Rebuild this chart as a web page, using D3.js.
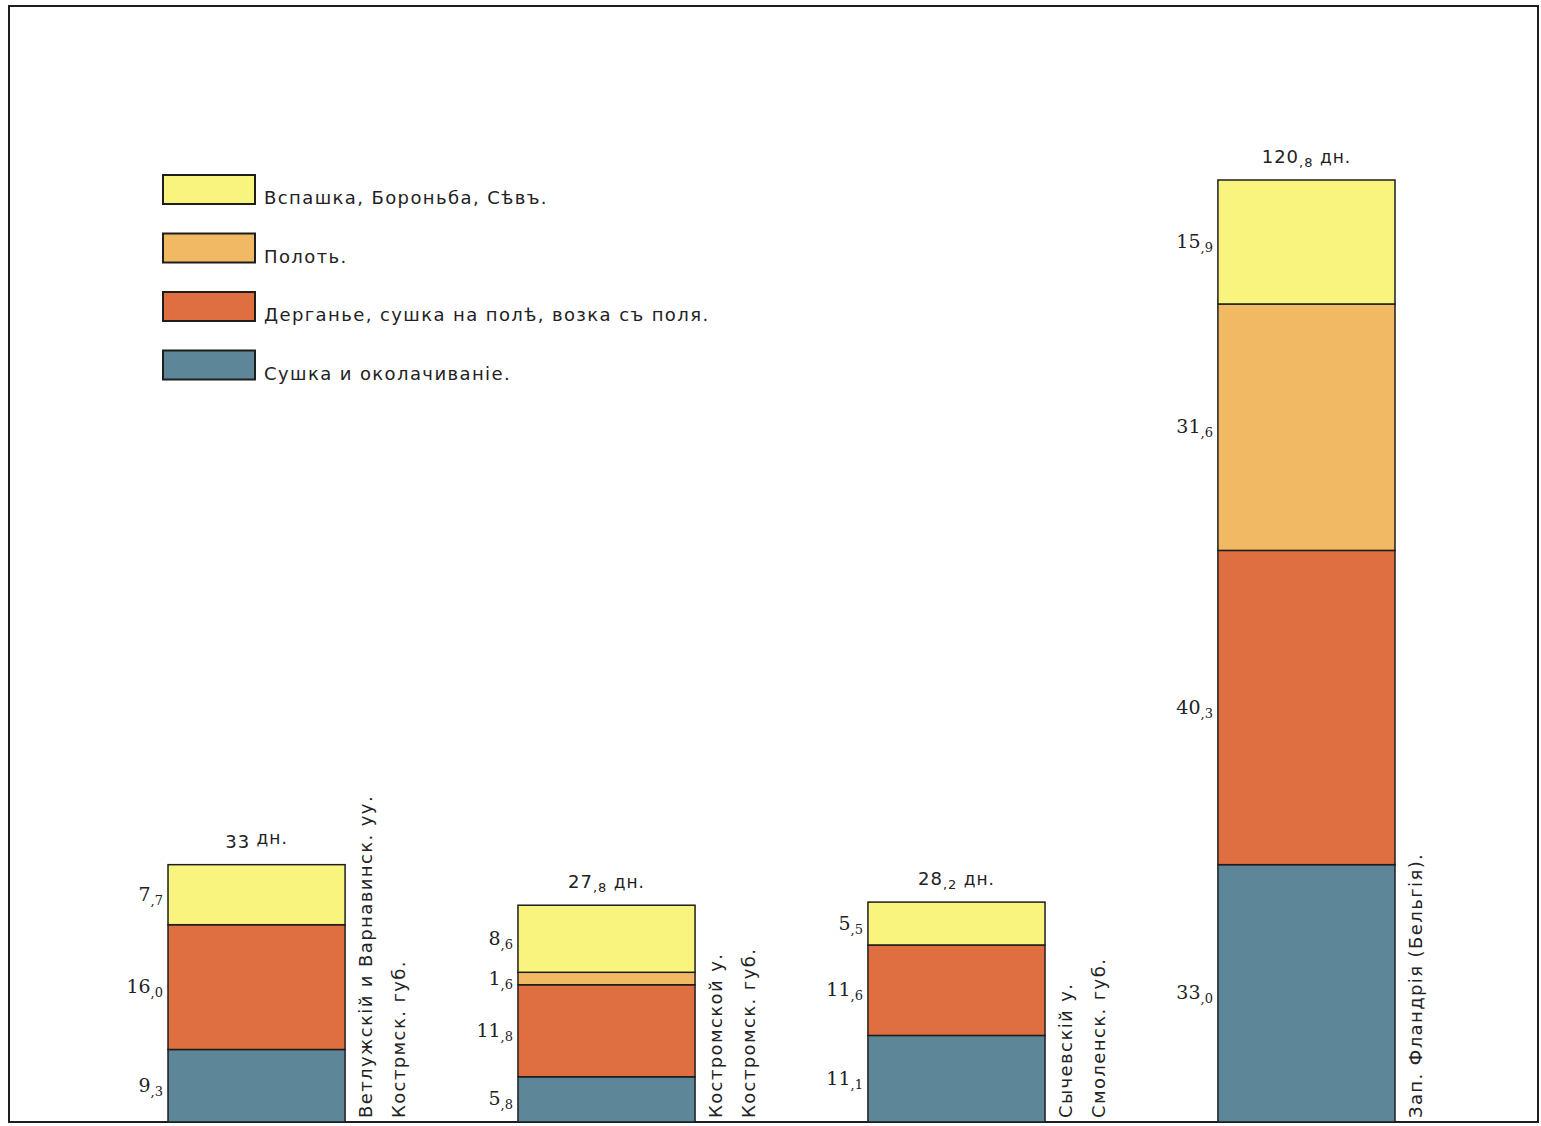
<!DOCTYPE html>
<html>
<head>
<meta charset="utf-8">
<script src="https://cdn.jsdelivr.net/npm/d3@7"></script>
<style>
  body { margin: 0; background: #fff; }
  svg { display: block; }
</style>
</head>
<body>
<svg id="canvas" width="1541" height="1126"></svg>
<script>
// regions (bars), two-line rotated captions
let regions = ['Ветлужскій', 'Костромской', 'Сычевскій', 'Фландрія']
let captions = [
  ['Ветлужскій и Варнавинск. уу.', 'Кострмск. губ.'],
  ['Костромской у.', 'Костромск. губ.'],
  ['Сычевскій у.', 'Смоленск. губ.'],
  ['Зап. Фландрія (Бельгія).']
]

// stack order bottom -> top
let categories = ['drying', 'pulling', 'weeding', 'ploughing']
let categoryNames = {
  ploughing: 'Вспашка, Бороньба, Сѣвъ.',
  weeding: 'Полоть.',
  pulling: 'Дерганье, сушка на полѣ, возка съ поля.',
  drying: 'Сушка и околачиваніе.'
}
let legendOrder = ['ploughing', 'weeding', 'pulling', 'drying']

// days of work
let drying = [9.3, 5.8, 11.1, 33.0]
let pulling = [16.0, 11.8, 11.6, 40.3]
let weeding = [0, 1.6, 0, 31.6]
let ploughing = [7.7, 8.6, 5.5, 15.9]
let totals = [33, 27.8, 28.2, 120.8]

let colors = {
  ploughing: '#f9f47e',
  weeding: '#f1b963',
  pulling: '#df6f40',
  drying: '#5e8699'
}

let canvas = d3.select('#canvas')

let rows = regions.map((r, i) => {
  return { region: r, drying: drying[i], pulling: pulling[i], weeding: weeding[i], ploughing: ploughing[i] }
})

let xScale = d3.scaleBand()
  .domain(regions)
  .range([168, 1395])
  .paddingInner(0.494)
  .paddingOuter(0)

let yScale = d3.scaleLinear()
  .domain([0, 120.8])
  .range([1122, 180])

let series = d3.stack().keys(categories)(rows)

let numText = (sel, value, bigSize, smallSize) => {
  let s = value.toFixed(1).split('.')
  sel.append('tspan').text(s[0]).attr('font-size', bigSize)
  sel.append('tspan').text(',' + s[1]).attr('font-size', smallSize).attr('dy', 4)
}

// frame
canvas.append('path')
  .attr('d', 'M9,1122 L9,6 L1538,6 L1538,1122 Z')
  .attr('fill', 'none')
  .attr('stroke', '#1e1e1e')
  .attr('stroke-width', 2)

// bars
let layers = canvas.selectAll('g.layer')
  .data(series)
  .enter()
  .append('g')
  .attr('class', 'layer')
  .attr('fill', (d) => colors[d.key])

layers.selectAll('rect')
  .data((d) => d.filter((p) => p[1] - p[0] > 0))
  .enter()
  .append('rect')
  .attr('x', (p) => xScale(p.data.region))
  .attr('y', (p) => yScale(p[1]))
  .attr('width', xScale.bandwidth())
  .attr('height', (p) => yScale(p[0]) - yScale(p[1]))
  .attr('stroke', '#1e1e1e')
  .attr('stroke-width', 1.5)

// segment values
series.forEach((layer) => {
  layer.forEach((p) => {
    let v = p[1] - p[0]
    if (v <= 0) return
    let t = canvas.append('text')
      .attr('x', xScale(p.data.region) - 5)
      .attr('y', (yScale(p[0]) + yScale(p[1])) / 2 + 6)
      .attr('text-anchor', 'end')
      .attr('font-family', 'DejaVu Serif')
      .attr('fill', '#222')
    numText(t, v, 19, 13)
  })
})

// totals
totals.forEach((tot, i) => {
  let t = canvas.append('text')
    .attr('x', xScale(regions[i]) + xScale.bandwidth() / 2)
    .attr('y', yScale(tot) - 17)
    .attr('text-anchor', 'middle')
    .attr('font-family', 'DejaVu Sans')
    .attr('letter-spacing', 1)
    .attr('fill', '#222')
  if (Number.isInteger(tot)) {
    t.append('tspan').text(tot).attr('font-size', 18)
  } else {
    numText(t, tot, 18, 13)
  }
  t.append('tspan').text(' дн.').attr('font-size', 17).attr('dy', -4)
})

// rotated captions
captions.forEach((lines, i) => {
  let right = xScale(regions[i]) + xScale.bandwidth()
  lines.forEach((line, j) => {
    let cx = right + 20 + j * 33
    canvas.append('text')
      .attr('transform', 'translate(' + cx + ',1118) rotate(-90)')
      .attr('dominant-baseline', 'central')
      .attr('font-family', 'DejaVu Sans')
      .attr('font-size', 18)
      .attr('letter-spacing', 1.4)
      .attr('fill', '#222')
      .text(line)
  })
})

// legend
let legend = canvas.selectAll('g.legend')
  .data(legendOrder)
  .enter()
  .append('g')
  .attr('class', 'legend')
  .attr('transform', (d, i) => 'translate(163,' + (175 + i * 58.5) + ')')

legend.append('rect')
  .attr('width', 92)
  .attr('height', 29)
  .attr('fill', (d) => colors[d])
  .attr('stroke', '#1e1e1e')
  .attr('stroke-width', 2)

legend.append('text')
  .attr('x', 101)
  .attr('y', 29)
  .attr('font-family', 'DejaVu Sans')
  .attr('font-size', 18)
  .attr('letter-spacing', 1.4)
  .attr('fill', '#222')
  .text((d) => categoryNames[d])
</script>
</body>
</html>
